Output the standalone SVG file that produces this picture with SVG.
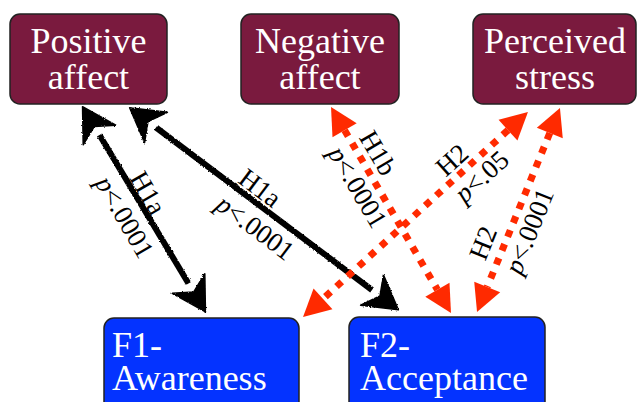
<svg xmlns="http://www.w3.org/2000/svg" width="638" height="402" viewBox="0 0 638 402">
<style>
.top rect{fill:#7a1a3e;stroke:#222;stroke-width:1.5}
.bot rect{fill:#0433ff;stroke:#222;stroke-width:1.5}
.nt{font-family:"Liberation Serif","DejaVu Serif","Times New Roman",serif;font-size:36px;fill:#fff}
.blk{fill:none;stroke:#000;stroke-width:6;marker-start:url(#hb);marker-end:url(#hb)}
.red{fill:none;stroke:#ff2a00;stroke-width:7;stroke-dasharray:7 8;marker-start:url(#hr);marker-end:url(#hr)}
.lb{font-family:"Liberation Serif","DejaVu Serif","Times New Roman",serif;font-size:27px;fill:#000;text-anchor:middle}
.it{font-style:italic}
</style>
<defs>
<marker id="hb" markerUnits="userSpaceOnUse" orient="auto-start-reverse" refX="0" refY="0" markerWidth="40" markerHeight="40" overflow="visible">
<path d="M33,0 L0,-19 L10,0 L0,19 Z" fill="#000" stroke="#000" stroke-width="1.5" stroke-linejoin="round"/>
</marker>
<marker id="hr" markerUnits="userSpaceOnUse" orient="auto-start-reverse" refX="0" refY="0" markerWidth="40" markerHeight="40" overflow="visible">
<path d="M27,0 L0,-14 L0,14 Z" fill="#ff2a00"/>
</marker>
<filter id="sketch" filterUnits="userSpaceOnUse" x="0" y="0" width="638" height="402">
<feTurbulence type="fractalNoise" baseFrequency="0.7" numOctaves="2" seed="3" result="n"/>
<feDisplacementMap in="SourceGraphic" in2="n" scale="2.5" xChannelSelector="R" yChannelSelector="G"/>
</filter>
</defs>
<g id="positive-affect" class="top">
<rect x="10" y="14" width="157" height="90" rx="10"/>
<text class="nt" text-anchor="middle"><tspan x="88.5" y="53">Positive</tspan><tspan x="88.5" y="89">affect</tspan></text>
</g>
<g id="negative-affect" class="top">
<rect x="241" y="14" width="158" height="90" rx="10"/>
<text class="nt" text-anchor="middle"><tspan x="320" y="53">Negative</tspan><tspan x="320" y="89">affect</tspan></text>
</g>
<g id="perceived-stress" class="top">
<rect x="473" y="14" width="163" height="90" rx="10"/>
<text class="nt" text-anchor="middle"><tspan x="555" y="53">Perceived</tspan><tspan x="555" y="89">stress</tspan></text>
</g>
<g id="f1-awareness" class="bot">
<rect x="104" y="318" width="195" height="100" rx="10"/>
<text class="nt"><tspan x="112" y="357">F1-</tspan><tspan x="112" y="390">Awareness</tspan></text>
</g>
<g id="f2-acceptance" class="bot">
<rect x="349" y="317" width="196" height="100" rx="10"/>
<text class="nt"><tspan x="360" y="357">F2-</tspan><tspan x="360" y="390">Acceptance</tspan></text>
</g>
<g id="connectors">
<g filter="url(#sketch)">
<path class="blk" d="M99.5,135 L188.5,283.5"/>
<path class="blk" d="M156,127.5 L372,290"/>
</g>
<path class="red" d="M344.6,130.3 L437.4,289.7"/>
<path class="red" d="M508,130.2 L323,298.8"/>
<path class="red" d="M549.8,133 L487.2,287"/>
<g id="labels">
<text class="lb" transform="translate(148,193) rotate(60)" y="9">H1a</text>
<text class="lb" transform="translate(123,218) rotate(60)" y="7"><tspan class="it">p</tspan>&lt;.0001</text>
<text class="lb" transform="translate(260,188) rotate(37)" y="9">H1a</text>
<text class="lb" transform="translate(254,229) rotate(37)" y="7"><tspan class="it">p</tspan>&lt;.0001</text>
<text class="lb" transform="translate(378,153) rotate(59.5)" y="9">H1b</text>
<text class="lb" transform="translate(356,188) rotate(59.5)" y="7"><tspan class="it">p</tspan>&lt;.0001</text>
<text class="lb" transform="translate(452,160) rotate(-42)" y="9">H2</text>
<text class="lb" transform="translate(483,178) rotate(-42)" y="7"><tspan class="it">p</tspan>&lt;.05</text>
<text class="lb" transform="translate(483,243) rotate(-68)" y="9">H2</text>
<text class="lb" transform="translate(531,232) rotate(-68)" y="7"><tspan class="it">p</tspan>&lt;.0001</text>
</g>
</g>
</svg>
